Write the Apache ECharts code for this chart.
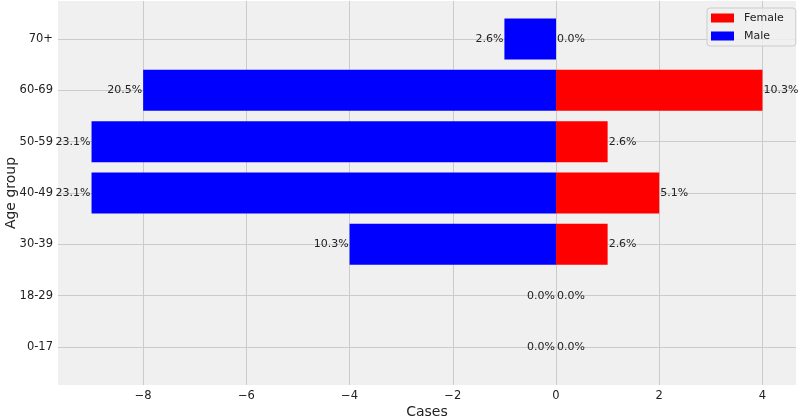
<!DOCTYPE html>
<html><head><meta charset="utf-8">
<script src="https://cdn.jsdelivr.net/npm/echarts@6/dist/echarts.min.js"></script>
<style>html,body{margin:0;padding:0;background:#fff}#c{width:800px;height:418px}</style>
</head><body><div id="c"></div>
<script>
const categories = ['0-17','18-29','30-39','40-49','50-59','60-69','70+'];
const maleCases = [0, 0, -4, -9, -9, -8, -1];
const femaleCases = [0, 0, 1, 2, 1, 4, 0];
const maleLabels = ['0.0%','0.0%','10.3%','23.1%','23.1%','20.5%','2.6%'];
const femaleLabels = ['0.0%','0.0%','2.6%','5.1%','2.6%','10.3%','0.0%'];
const xTickMin = -8, xTickMax = 4, xTickStep = 2;
const xMin = -9.65, xMax = 4.65;

const FONT = 'DejaVu Sans';
const TXT = '#222';
const plotL = 58, plotR = 796, plotT = 1, plotB = 385;
const pxPerUnit = (plotR - plotL) / (xMax - xMin);
const tickL = plotL + (xTickMin - xMin) * pxPerUnit;
const tickR = plotL + (xTickMax - xMin) * pxPerUnit;
const catTop = 39, catBottom = 347;

const chart = echarts.init(document.getElementById('c'), null, {renderer: 'canvas'});
const fmtMinus = v => v < 0 ? '\u2212' + Math.abs(v) : String(v);

chart.setOption({
  animation: false,
  backgroundColor: '#ffffff',
  textStyle: {fontFamily: FONT},
  legend: {
    data: ['Female', 'Male'],
    orient: 'vertical',
    left: 707, top: 8,
    padding: [4, 12, 4, 4],
    itemWidth: 23, itemHeight: 9, itemGap: 6,
    icon: 'rect',
    backgroundColor: 'rgba(240,240,240,0.85)',
    borderColor: '#cccccc', borderWidth: 1, borderRadius: 3,
    textStyle: {fontFamily: FONT, fontSize: 11, color: TXT, padding: [0, 0, 0, 5], lineHeight: 12}
  },
  grid: [
    {left: plotL, right: 800 - plotR, top: plotT, bottom: 418 - plotB, show: true,
     backgroundColor: '#f0f0f0', borderWidth: 0, outerBoundsMode: 'none', containLabel: false},
    {left: tickL, right: 800 - tickR, top: plotT, bottom: 418 - plotB, outerBoundsMode: 'none', containLabel: false},
    {left: plotL, right: 800 - plotR, top: catTop, bottom: 418 - catBottom, outerBoundsMode: 'none', containLabel: false}
  ],
  xAxis: [
    {gridIndex: 0, type: 'value', min: xMin, max: xMax,
     axisLine: {show: false}, axisTick: {show: false}, axisLabel: {show: false}, splitLine: {show: false},
     name: 'Cases', nameLocation: 'middle', nameGap: 20, nameMoveOverlap: false,
     nameTextStyle: {fontFamily: FONT, fontSize: 14, color: TXT}},
    {gridIndex: 1, type: 'value', min: xTickMin, max: xTickMax, interval: xTickStep,
     axisLine: {show: false}, axisTick: {show: false},
     axisLabel: {fontFamily: FONT, fontSize: 11.5, color: TXT, margin: 5, formatter: fmtMinus},
     splitLine: {show: true, lineStyle: {color: '#cbcbcb', width: 1}}},
    {gridIndex: 2, type: 'value', min: xMin, max: xMax, show: false, splitLine: {show: false}}
  ],
  yAxis: [
    {gridIndex: 0, type: 'value', min: 0, max: 1, show: false, splitLine: {show: false}},
    {gridIndex: 1, type: 'value', min: 0, max: 1, show: false, splitLine: {show: false}},
    {gridIndex: 2, type: 'category', data: categories, boundaryGap: false,
     axisLine: {show: false}, axisTick: {show: false},
     axisLabel: {fontFamily: FONT, fontSize: 11.5, color: TXT, margin: 5},
     splitLine: {show: true, lineStyle: {color: '#cbcbcb', width: 1}},
     name: 'Age group', nameLocation: 'middle', nameRotate: 90, nameGap: 40, nameMoveOverlap: false,
     nameTextStyle: {fontFamily: FONT, fontSize: 14, color: TXT}}
  ],
  series: [
    {name: 'Male', type: 'bar', xAxisIndex: 2, yAxisIndex: 2, data: maleCases,
     barWidth: '80%', barGap: '-100%', clip: false,
     itemStyle: {color: '#0000ff'},
     label: {show: true, position: 'left', distance: 1, fontFamily: FONT, fontSize: 11, color: TXT,
             formatter: p => maleLabels[p.dataIndex]}},
    {name: 'Female', type: 'bar', xAxisIndex: 2, yAxisIndex: 2, data: femaleCases,
     barWidth: '80%', barGap: '-100%', clip: false,
     itemStyle: {color: '#ff0000'},
     label: {show: true, position: 'right', distance: 1, fontFamily: FONT, fontSize: 11, color: TXT,
             formatter: p => femaleLabels[p.dataIndex]}}
  ]
});
</script></body></html>
